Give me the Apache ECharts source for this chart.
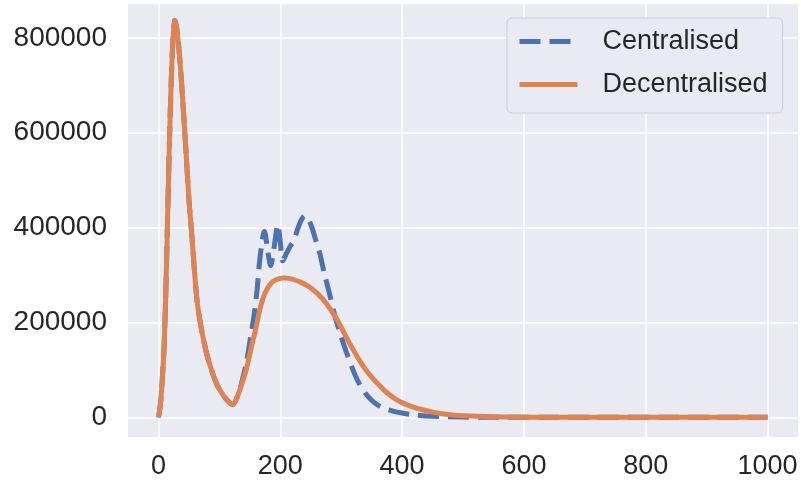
<!DOCTYPE html>
<html>
<head>
<meta charset="utf-8">
<script src="https://cdn.jsdelivr.net/npm/echarts@6/dist/echarts.min.js"></script>
<style>
  html, body { margin: 0; padding: 0; background: #ffffff; }
  #chart { width: 801px; height: 488px; }
</style>
</head>
<body>
<div id="chart"></div>
<script>
// series values (time step, infected count)
var decentralisedX = [0, 3, 6, 9, 12, 15, 18, 21, 24, 27, 30, 33, 36, 40, 45, 50, 55, 63, 70, 78, 85, 95, 107, 115, 122,
  130, 138, 145, 152, 160, 167, 175, 185, 195, 205, 215, 225, 235, 245, 255, 265, 275, 290, 300, 310, 320, 330,
  340, 350, 360, 370, 380, 390, 400, 415, 430, 450, 475, 500, 550, 600, 700, 800, 900, 1000];
var decentralisedY = [0, 25000, 75000, 140000, 260000, 420000, 580000, 710000, 800000, 837000, 820000, 785000, 740000, 665000, 565000, 460000, 380000, 250000, 190000, 140000, 108000, 72000, 45000, 33000, 27000,
  45000, 75000, 105000, 145000, 188000, 230000, 262000, 283000, 291000, 294000, 293000, 289000, 284000, 277000, 268000, 256000, 241000, 213000, 190000, 165000, 142000, 120000,
  101000, 85000, 71000, 58000, 47000, 38000, 31000, 23000, 17000, 11000, 6000, 3500, 1200, 400, 0, 0, 0, 0];

var centralisedX = [0, 3, 6, 9, 12, 15, 18, 21, 24, 27, 30, 33, 36, 40, 45, 50, 55, 63, 70, 78, 85, 95, 107, 115, 122,
  130, 138, 145, 152, 157, 162, 167, 174, 179, 184, 190, 196, 200, 204, 210, 216, 222, 228, 234, 240, 246, 252,
  258, 265, 272, 280, 290, 300, 310, 320, 330, 340, 350, 360, 370, 385, 400, 420, 450, 500, 550, 600, 700, 800, 900, 1000];
var centralisedY = [0, 25000, 75000, 140000, 260000, 420000, 580000, 710000, 800000, 837000, 820000, 785000, 740000, 665000, 565000, 460000, 380000, 250000, 190000, 140000, 108000, 72000, 45000, 33000, 27000,
  45000, 80000, 120000, 175000, 215000, 270000, 340000, 392000, 355000, 320000, 360000, 406000, 370000, 330000, 345000, 360000, 372000, 395000, 415000, 425000, 418000, 400000,
  375000, 345000, 305000, 265000, 212000, 170000, 132000, 98000, 70000, 50000, 36000, 26000, 19000, 13000, 9000, 5000, 2000, 500, 0, 0, 0, 0, 0, 0];

var xTicks = [0, 200, 400, 600, 800, 1000];
var yTicks = [0, 200000, 400000, 600000, 800000];

function pairs(xs, ys) {
  return xs.map(function (x, i) { return [x, ys[i]]; });
}

function plain(value) {
  return String(value);
}

var chart = echarts.init(document.getElementById('chart'));
var fontFamily = '"Liberation Sans", Arial, sans-serif';
var blue = '#4c72b0';
var orange = '#dd8452';
var blueDash = [21, 9];

chart.setOption({
  animation: false,
  backgroundColor: '#ffffff',
  textStyle: { fontFamily: fontFamily },
  grid: {
    left: 128,
    right: 3,
    top: 4,
    bottom: 51,
    show: true,
    backgroundColor: '#eaeaf2',
    borderWidth: 0
  },
  legend: {
    orient: 'vertical',
    left: 507,
    top: 18,
    padding: [10, 15, 15, 10],
    itemWidth: 58,
    itemHeight: 14,
    itemGap: 16,
    backgroundColor: '#eaeaf2',
    borderColor: '#cfcfd6',
    borderWidth: 1,
    borderRadius: 5,
    textStyle: {
      color: '#262626',
      fontSize: 27,
      fontFamily: fontFamily,
      padding: [0, 0, 0, 20]
    },
    data: [
      { name: 'Centralised', itemStyle: { opacity: 0 }, lineStyle: { color: blue, width: 5, type: blueDash } },
      { name: 'Decentralised', itemStyle: { opacity: 0 }, lineStyle: { color: orange, width: 5 } }
    ]
  },
  xAxis: {
    type: 'value',
    min: -50,
    max: 1050,
    axisLine: { show: false },
    axisTick: { show: false, customValues: xTicks },
    axisLabel: {
      customValues: xTicks,
      formatter: plain,
      color: '#262626',
      fontSize: 27,
      margin: 16
    },
    splitLine: { show: true, lineStyle: { color: '#ffffff', width: 1.5 } }
  },
  yAxis: {
    type: 'value',
    min: -41500,
    max: 871500,
    axisLine: { show: false },
    axisTick: { show: false, customValues: yTicks },
    axisLabel: {
      customValues: yTicks,
      formatter: plain,
      color: '#262626',
      fontSize: 28,
      margin: 21
    },
    splitLine: { show: true, lineStyle: { color: '#ffffff', width: 1.5 } }
  },
  series: [
    {
      name: 'Centralised',
      type: 'line',
      symbol: 'none',
      smooth: 0.3,
      data: pairs(centralisedX, centralisedY),
      lineStyle: { color: blue, width: 5, type: blueDash },
      itemStyle: { color: blue },
      z: 2
    },
    {
      name: 'Decentralised',
      type: 'line',
      symbol: 'none',
      smooth: 0.3,
      data: pairs(decentralisedX, decentralisedY),
      lineStyle: { color: orange, width: 5 },
      itemStyle: { color: orange },
      z: 3
    }
  ]
});
</script>
</body>
</html>
